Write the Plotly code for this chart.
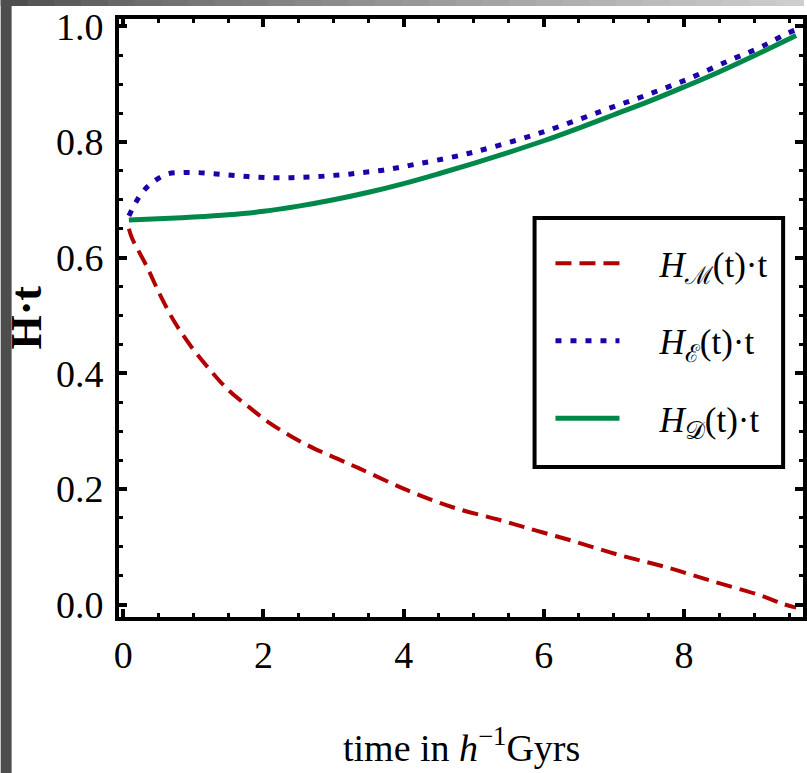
import plotly.graph_objects as go

# ---- data ----
t_matter = [0.08, 0.127, 0.33, 0.52, 0.73, 0.97, 1.23, 1.50, 1.80, 2.09, 2.41, 2.74, 3.06, 3.36,
            4.05, 4.71, 5.38, 5.72, 6.39, 7.07, 7.74, 8.42, 9.09, 9.42, 9.60]
h_matter = [0.650, 0.633, 0.586, 0.537, 0.489, 0.446, 0.407, 0.371, 0.341, 0.314, 0.290, 0.269, 0.252, 0.236,
            0.198, 0.168, 0.146, 0.134, 0.111, 0.086, 0.065, 0.040, 0.016, 0.001, -0.005]

t_emergent = [0.08, 0.26, 0.43, 0.64, 0.85, 1.06, 1.28, 1.49, 1.70, 1.91, 2.13, 2.34, 2.55, 2.77, 2.98,
              3.19, 3.40, 3.64, 3.85, 4.07, 4.92, 5.96, 7.00, 7.42, 8.04, 8.65, 9.08, 9.27, 9.48, 9.60]
h_emergent = [0.672, 0.711, 0.731, 0.745, 0.747, 0.747, 0.745, 0.743, 0.741, 0.739, 0.738, 0.738, 0.739, 0.740, 0.742,
              0.744, 0.747, 0.750, 0.754, 0.759, 0.780, 0.816, 0.861, 0.879, 0.908, 0.941, 0.963, 0.975, 0.988, 0.994]

t_dark = [0.08, 0.5, 1.0, 1.5, 2.0, 2.5, 3.0, 3.5, 4.0, 4.5, 5.0, 5.5, 6.0, 6.5, 7.0, 7.5, 8.0, 8.5, 9.0, 9.6]
h_dark = [0.665, 0.667, 0.670, 0.674, 0.680, 0.689, 0.700, 0.713, 0.728, 0.745, 0.763, 0.782, 0.802, 0.824,
          0.847, 0.870, 0.895, 0.921, 0.949, 0.984]

names = ["<i>H</i><sub>ℳ</sub>(t)·t", "<i>H</i><sub>ℰ</sub>(t)·t", "<i>H</i><sub>𝒟</sub>(t)·t"]
x_ticks = [0, 2, 4, 6, 8]
y_ticks = [0.0, 0.2, 0.4, 0.6, 0.8, 1.0]
y_ticklabels = ["0.0", "0.2", "0.4", "0.6", "0.8", "1.0"]

FONT = "Liberation Serif, Times New Roman, serif"
GAP = "\u2002\u2002"  # space between legend sample and text

fig = go.Figure()
fig.add_trace(go.Scatter(x=t_matter, y=h_matter, mode="lines", name=GAP + names[0], legendgroup="m",
                         line=dict(color="#B20000", width=4, dash="16px,8px", shape="spline")))
fig.add_trace(go.Scatter(x=t_emergent, y=h_emergent, mode="lines", name=GAP + names[1], legendgroup="e",
                         line=dict(color="#1E00AA", width=5, dash="6px,9px", shape="spline")))
fig.add_trace(go.Scatter(x=t_dark, y=h_dark, mode="lines", name=GAP + names[2], legendgroup="d",
                         line=dict(color="#00884A", width=5, shape="spline")))

axis_common = dict(showline=True, linecolor="black", linewidth=4, mirror="ticks",
                   ticks="inside", ticklen=8, tickwidth=3.5, tickcolor="black",
                   showgrid=False, zeroline=False,
                   tickfont=dict(family=FONT, size=38, color="black"))

fig.update_xaxes(range=[-0.061, 9.698], tickvals=x_ticks, ticktext=[str(v) for v in x_ticks],
                 ticklabelstandoff=1,
                 minor=dict(ticks="inside", ticklen=4, tickwidth=3, tickcolor="black", dtick=0.5, tick0=0, showgrid=False),
                 **axis_common)
fig.update_yaxes(range=[-0.0213, 1.0125], tickvals=y_ticks, ticktext=y_ticklabels,
                 ticklabelstandoff=4,
                 minor=dict(ticks="inside", ticklen=4, tickwidth=3, tickcolor="black", dtick=0.05, tick0=0, showgrid=False),
                 **axis_common)

# background strips of the reference screenshot
W, H = 807, 773
L, R, T, B = 119, 807, 19, 617
def px_x(p):
    return (p - L) / (R - L)
def px_y(p):
    return (B - p) / (B - T)

shapes = [dict(type="rect", xref="paper", yref="paper", x0=px_x(0), x1=px_x(11), y0=px_y(H), y1=px_y(0),
               fillcolor="#4d4d4d", line=dict(width=0), layer="above")]
n = 30
for i in range(n):
    f = i / (n - 1)
    g = int(78 + 127 * (f ** 0.8))
    shapes.append(dict(type="rect", xref="paper", yref="paper",
                       x0=px_x(i * W / n), x1=px_x((i + 1) * W / n + 1), y0=px_y(6), y1=px_y(0),
                       fillcolor=f"rgb({g},{g},{g})", line=dict(width=0), layer="above"))
# legend frame
shapes.append(dict(type="rect", xref="paper", yref="paper", x0=px_x(537), x1=px_x(787), y0=px_y(467), y1=px_y(218),
                   fillcolor="white", line=dict(color="black", width=4), layer="above"))

annotations = [
    dict(text="time in <i>h</i><sup>−1</sup>Gyrs", xref="paper", yref="paper", x=0.5, y=px_y(745),
         xanchor="center", yanchor="middle", showarrow=False, font=dict(family=FONT, size=38, color="black")),
    dict(text="<b>H·t</b>", xref="paper", yref="paper", x=px_x(25), y=0.5, textangle=-90,
         xanchor="center", yanchor="middle", showarrow=False, font=dict(family=FONT, size=44, color="black")),
]

fig.update_layout(
    width=W, height=H, margin=dict(l=L, r=W - R, t=T, b=H - B, pad=0),
    paper_bgcolor="white", plot_bgcolor="white",
    font=dict(family=FONT, size=38, color="black"),
    showlegend=True,
    legend=dict(x=px_x(553), y=px_y(234), xanchor="left", yanchor="top",
                borderwidth=0, bgcolor="rgba(0,0,0,0)",
                tracegroupgap=29, itemwidth=64,
                font=dict(family=FONT, size=35, color="black")),
    shapes=shapes, annotations=annotations,
)

fig.write_html("out.html", post_script="document.body.style.margin='0';",
               config={"displayModeBar": False})
